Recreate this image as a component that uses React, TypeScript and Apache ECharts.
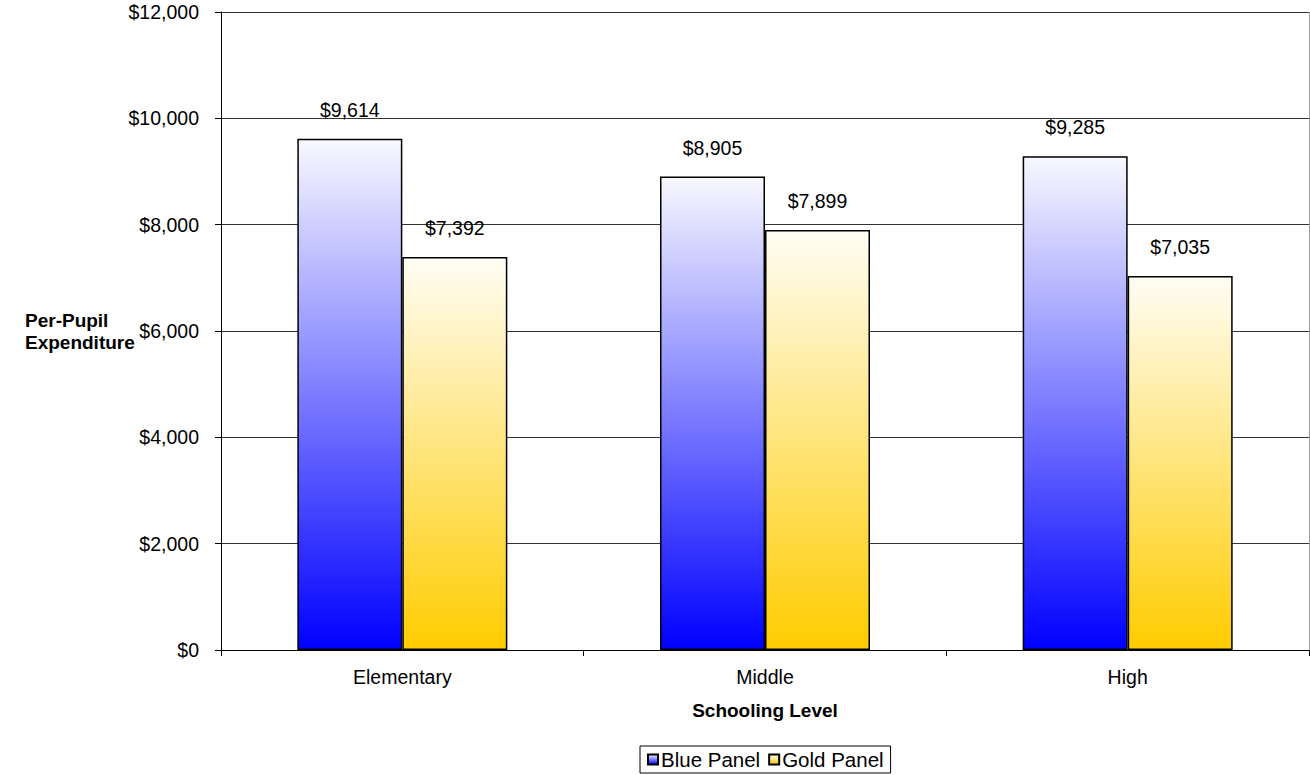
import React, { useEffect, useRef } from "react";
import * as echarts from "echarts";

const categories = ["Elementary", "Middle", "High"];
const bluePanel = [9614, 8905, 9285];
const goldPanel = [7392, 7899, 7035];
const seriesNames = ["Blue Panel", "Gold Panel"];

const FONT = "'Liberation Sans', Arial, sans-serif";
const FS = 19.5;

export default function App() {
  const ref = useRef<HTMLDivElement>(null);
  useEffect(() => {
    if (!ref.current) return;
    const chart = echarts.init(ref.current, undefined, { renderer: "svg" });
    const grad = (top: string, bottom: string) =>
      new echarts.graphic.LinearGradient(0, 0, 0, 1, [
        { offset: 0, color: top },
        { offset: 1, color: bottom },
      ]);
    const fmt = (v: number) => "$" + v.toLocaleString("en-US");
    const label = {
      show: true,
      position: "top",
      distance: 19,
      fontFamily: FONT,
      fontSize: FS,
      color: "#000",
      formatter: (p: any) => fmt(p.value),
    };
    chart.setOption({
      animation: false,
      textStyle: { fontFamily: FONT },
      grid: { left: 221, right: 1, top: 12, bottom: 125, containLabel: false },
      xAxis: {
        type: "category",
        data: categories,
        name: "Schooling Level",
        nameLocation: "middle",
        nameGap: 51,
        nameTextStyle: { fontFamily: FONT, fontSize: 19, fontWeight: "bold", color: "#000" },
        axisLine: { lineStyle: { color: "#000", width: 1 } },
        axisTick: { show: true, length: 6, lineStyle: { color: "#000" } },
        axisLabel: { fontFamily: FONT, fontSize: FS, color: "#000", margin: 17 },
      },
      yAxis: {
        type: "value",
        min: 0,
        max: 12000,
        interval: 2000,
        axisLine: { show: true, lineStyle: { color: "#000", width: 1 } },
        axisTick: { show: true, length: 6, lineStyle: { color: "#000" } },
        axisLabel: { fontFamily: FONT, fontSize: FS, color: "#000", margin: 22, formatter: fmt },
        splitLine: { show: true, lineStyle: { color: "#333", width: 1 } },
      },
      legend: {
        bottom: 2,
        left: 640,
        icon: "rect",
        itemWidth: 10,
        itemHeight: 10,
        itemGap: 8,
        padding: [3, 7],
        borderColor: "#000",
        borderWidth: 1,
        textStyle: { fontFamily: FONT, fontSize: 20.5, color: "#000", padding: [0, 0, 0, -2] },
        data: seriesNames,
      },
      graphic: [
        {
          type: "text",
          left: 25,
          top: 309,
          style: {
            text: "Per-Pupil\nExpenditure",
            font: "bold 19px " + FONT,
            fill: "#000",
            align: "center",
            lineHeight: 22,
          },
        },
        {
          type: "line",
          shape: { x1: 1309.5, y1: 12, x2: 1309.5, y2: 650 },
          style: { stroke: "#999", lineWidth: 1 },
        },
      ],
      series: [
        {
          name: seriesNames[0],
          type: "bar",
          data: bluePanel,
          barWidth: 105,
          barGap: "0%",
          itemStyle: { color: grad("#f8f8ff", "#0000ff"), borderColor: "#000", borderWidth: 1.5 },
          label,
        },
        {
          name: seriesNames[1],
          type: "bar",
          data: goldPanel,
          barWidth: 105,
          itemStyle: { color: grad("#fffdf5", "#ffcc00"), borderColor: "#000", borderWidth: 1.5 },
          label,
        },
      ],
    });
    return () => chart.dispose();
  }, []);
  return (
    <div
      ref={ref}
      style={{ position: "fixed", left: 0, top: 0, width: 1310, height: 775, background: "#fff" }}
    />
  );
}
